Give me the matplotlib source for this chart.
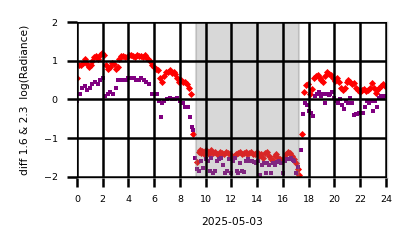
import matplotlib
matplotlib.use("Agg")
import matplotlib.pyplot as plt
import numpy as np

# ---- data (hours of day, value) ----
red_t = [0.0, 0.15, 0.3, 0.45, 0.6, 0.75, 0.9, 1.05, 1.2, 1.35, 1.5, 1.65, 1.8, 1.95, 2.1, 2.25,
         2.4, 2.55, 2.7, 2.85, 3.0, 3.15, 3.3, 3.45, 3.6, 3.75, 3.9, 4.05, 4.2, 4.35, 4.5, 4.65,
         4.8, 4.95, 5.1, 5.25, 5.4, 5.55, 5.7, 5.85, 6.0, 6.15, 6.3, 6.45, 6.6, 6.75, 6.9, 7.05,
         7.2, 7.35, 7.5, 7.65, 7.8, 7.95, 8.1, 8.25, 8.4, 8.55, 8.7, 8.85, 9.05,
         9.35, 9.45, 9.55, 9.65, 9.75, 9.85, 9.95, 10.05, 10.15, 10.25, 10.35, 10.45, 10.55, 10.7,
         10.85, 11.0, 11.15, 11.3, 11.45, 11.6, 11.75, 11.9, 12.05, 12.2, 12.35, 12.5, 12.65, 12.8,
         12.95, 13.1, 13.25, 13.4, 13.55, 13.7, 13.85, 14.0, 14.15, 14.3, 14.45, 14.6, 14.75, 14.9,
         15.05, 15.2, 15.35, 15.5, 15.65, 15.8, 15.95, 16.1, 16.25, 16.4, 16.55, 16.7, 16.85, 17.0,
         17.15, 17.25,
         17.5, 17.65, 17.8, 17.95, 18.1, 18.25, 18.4, 18.55, 18.7, 18.85, 19.0, 19.15, 19.3, 19.45,
         19.6, 19.75, 19.9, 20.05, 20.2, 20.35, 20.5, 20.65, 20.8, 20.95, 21.1, 21.25, 21.4, 21.55,
         21.7, 21.85, 22.0, 22.15, 22.3, 22.45, 22.6, 22.75, 22.9, 23.05, 23.2, 23.35, 23.5, 23.65,
         23.8, 23.95]
red_v = [0.55, 0.9, 0.88, 0.95, 1.05, 0.92, 0.85, 0.9, 1.0, 1.1, 1.12, 1.05, 1.15, 1.2, 1.15, 0.88,
         0.8, 0.85, 0.95, 0.92, 0.8, 0.85, 1.05, 1.12, 1.12, 1.1, 1.1, 1.15, 1.15, 1.12, 1.1, 1.15,
         1.12, 1.12, 1.1, 1.15, 1.1, 1.05, 1.0, 0.9, 0.85, 0.8, 0.75, 0.55, 0.45, 0.6, 0.72, 0.7,
         0.75, 0.68, 0.7, 0.65, 0.55, 0.45, 0.5, 0.45, 0.45, 0.4, 0.3, 0.15, -0.9,
         -1.62, -1.35, -1.3, -1.38, -1.32, -1.4, -1.35, -1.3, -1.38, -1.42, -1.35, -1.3, -1.38, -1.35,
         -1.4, -1.42, -1.35, -1.38, -1.4, -1.35, -1.38, -1.42, -1.48, -1.45, -1.4, -1.38, -1.35, -1.4,
         -1.38, -1.35, -1.42, -1.38, -1.35, -1.42, -1.4, -1.35, -1.45, -1.4, -1.5, -1.38, -1.35, -1.45,
         -1.55, -1.6, -1.45, -1.4, -1.5, -1.55, -1.6, -1.5, -1.42, -1.35, -1.38, -1.45, -1.55, -1.65,
         -1.8, -1.95,
         -0.9, 0.2, 0.38, 0.4, 0.15, 0.28, 0.55, 0.6, 0.62, 0.55, 0.5, 0.45, 0.6, 0.72,
         0.65, 0.62, 0.55, 0.48, 0.55, 0.45, 0.3, 0.25, 0.3, 0.45, 0.5, 0.45, 0.4, 0.42,
         0.3, 0.25, 0.2, 0.25, 0.28, 0.22, 0.25, 0.3, 0.42, 0.3, 0.18, 0.25, 0.3, 0.35,
         0.4, 0.35]

purple_t = [0.0, 0.2, 0.4, 0.6, 0.8, 1.0, 1.2, 1.4, 1.6, 1.8, 2.0, 2.2, 2.4, 2.6, 2.8, 3.0, 3.2,
            3.4, 3.6, 3.8, 4.0, 4.2, 4.4, 4.6, 4.8, 5.0, 5.2, 5.4, 5.6, 5.8, 6.0, 6.2, 6.4, 6.5,
            6.6, 6.8, 7.0, 7.2, 7.4, 7.6, 7.8, 8.0, 8.2, 8.4, 8.6, 8.75, 8.9, 9.05,
            9.15, 9.35, 9.5, 9.65, 9.8, 10.0, 10.15, 10.3, 10.45, 10.6, 10.75, 10.9, 11.05, 11.2,
            11.35, 11.5, 11.65, 11.8, 11.95, 12.1, 12.25, 12.4, 12.55, 12.7, 12.85, 13.0, 13.15,
            13.3, 13.45, 13.6, 13.75, 13.9, 14.05, 14.2, 14.35, 14.5, 14.65, 14.8, 14.95, 15.1,
            15.25, 15.4, 15.55, 15.7, 15.85, 16.0, 16.15, 16.3, 16.45, 16.6, 16.75, 16.9, 17.05,
            17.15, 17.4,
            17.6, 17.75, 17.9, 18.05, 18.2, 18.35, 18.5, 18.65, 18.8, 18.95, 19.1, 19.25, 19.4,
            19.55, 19.7, 19.85, 20.0, 20.15, 20.3, 20.45, 20.6, 20.75, 20.9, 21.05, 21.2, 21.35,
            21.5, 21.65, 21.8, 21.95, 22.1, 22.25, 22.4, 22.55, 22.7, 22.85, 23.0, 23.15, 23.3,
            23.5, 23.65, 23.8, 23.95]
purple_v = [-0.05, 0.15, 0.3, 0.35, 0.25, 0.3, 0.4, 0.45, 0.4, 0.5, 0.55, 0.1, 0.15, 0.2, 0.15,
            0.3, 0.5, 0.5, 0.5, 0.5, 0.55, 0.55, 0.55, 0.5, 0.5, 0.55, 0.5, 0.45, 0.4, 0.15, 0.15,
            0.15, -0.05, -0.45, -0.1, -0.05, 0.0, 0.05, 0.0, 0.0, 0.05, -0.05, -0.1, -0.2, -0.2,
            -0.45, -0.7, -0.8,
            -1.5, -1.8, -1.85, -1.6, -1.78, -1.55, -1.6, -1.85, -1.5, -1.9, -1.85, -1.6, -1.55, -1.5,
            -1.68, -1.9, -1.85, -1.55, -1.9, -1.6, -1.5, -1.85, -1.9, -1.63, -1.85, -1.88, -1.6,
            -1.55, -1.6, -1.6, -1.62, -1.65, -1.6, -1.95, -1.7, -1.65, -1.9, -1.65, -1.7, -1.9,
            -1.65, -1.7, -1.62, -1.6, -1.63, -1.9, -1.6, -1.55, -1.55, -1.52, -1.57, -1.6, -1.9,
            -1.75, -1.3,
            -0.38, -0.1, -0.15, -0.3, -0.35, -0.42, 0.1, 0.15, 0.2, 0.1, 0.15, -0.1, 0.15,
            0.12, 0.15, 0.2, 0.05, -0.05, -0.1, 0.0, -0.15, -0.25, -0.05, -0.1, 0.05, -0.1,
            -0.4, -0.38, -0.38, -0.35, -0.35, -0.35, -0.2, -0.05, -0.1, -0.05, -0.3, -0.05, -0.2,
            0.05, 0.1, 0.05, 0.1]

night_span = (9.25, 17.25)
x_ticks = [0, 2, 4, 6, 8, 10, 12, 14, 16, 18, 20, 22, 24]
y_ticks = [-2, -1, 0, 1, 2]
date_label = "2025-05-03"
y_label = "diff 1.6 & 2.3  log(Radiance)"

fig = plt.figure(figsize=(4.14, 2.48), dpi=100)
ax = fig.add_axes([0.186, 0.282, 0.749, 0.629])

ax.scatter(red_t, red_v, marker="D", s=13, color="red", linewidths=0)
ax.scatter(purple_t, purple_v, marker="s", s=9, color="purple", linewidths=0)
ax.axvspan(*night_span, facecolor="gray", alpha=0.3, edgecolor="gray", linewidth=1.5)

ax.set_xlim(0, 24.1)
ax.set_ylim(-2.03, 2.0)
ax.set_xticks(x_ticks)
ax.set_yticks(y_ticks)
ax.set_axisbelow(False)
ax.grid(True, color="black", linewidth=1.8)
ax.tick_params(axis="x", length=6.5, width=1.8, color="black", labelsize=6.8, pad=6)
ax.tick_params(axis="y", length=7, width=1.8, color="black", labelsize=6.8, pad=7)
for s in ax.spines.values():
    s.set_color("#cccccc")
    s.set_linewidth(1.0)
ax.set_xlabel(date_label, fontsize=7.7, labelpad=9)
ax.set_ylabel(y_label, fontsize=7.7, labelpad=10)

fig.savefig("out.png", dpi=100)
